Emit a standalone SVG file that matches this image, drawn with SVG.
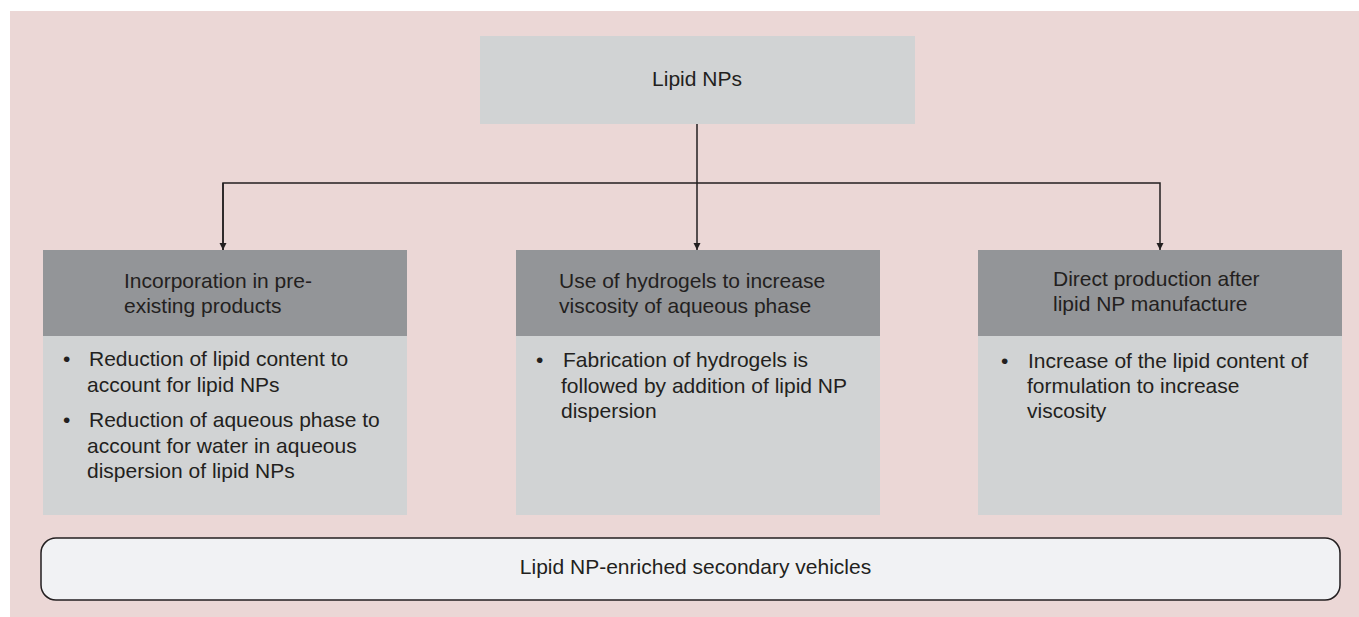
<svg xmlns="http://www.w3.org/2000/svg" width="1359" height="617" viewBox="0 0 1359 617">
<defs>
<style>
text{font-family:"Liberation Sans",Arial,sans-serif;font-size:21px;fill:#231f20}
.hdr{fill:#939598}
.body{fill:#d1d3d4}
.conn{stroke:#231f20;stroke-width:1.5;fill:none}
</style>
<marker id="arr" viewBox="0 0 10 10" refX="10" refY="5" markerWidth="7" markerHeight="10" markerUnits="userSpaceOnUse" orient="auto">
<path d="M0,0 L10,5 L0,10 z" fill="#231f20"/>
</marker>
</defs>
<rect x="0" y="0" width="1359" height="617" fill="#ffffff"/>
<rect x="10" y="11" width="1349" height="606" fill="#ebd7d6"/>
<g id="top">
<rect x="480" y="36" width="435" height="88" class="body"/>
<text x="697" y="86" text-anchor="middle">Lipid NPs</text>
</g>
<g id="connectors">
<line x1="697" y1="124" x2="697" y2="250" class="conn" marker-end="url(#arr)"/>
<polyline points="223,250 223,183 1160,183 1160,250" class="conn" marker-end="url(#arr)"/>
<line x1="223" y1="183" x2="223" y2="250" class="conn" marker-end="url(#arr)"/>
</g>
<g id="left">
<rect x="43" y="250" width="364" height="86" class="hdr"/>
<rect x="43" y="336" width="364" height="179" class="body"/>
<text x="124" y="288">Incorporation in pre-</text>
<text x="124" y="313">existing products</text>
<text x="63" y="366">•</text>
<text x="89" y="366">Reduction of lipid content to</text>
<text x="87" y="392">account for lipid NPs</text>
<text x="63" y="427">•</text>
<text x="89" y="427">Reduction of aqueous phase to</text>
<text x="87" y="453">account for water in aqueous</text>
<text x="87" y="478">dispersion of lipid NPs</text>
</g>
<g id="middle">
<rect x="516" y="250" width="364" height="86" class="hdr"/>
<rect x="516" y="336" width="364" height="179" class="body"/>
<text x="559" y="288">Use of hydrogels to increase</text>
<text x="559" y="313">viscosity of aqueous phase</text>
<text x="536" y="367">•</text>
<text x="563" y="367">Fabrication of hydrogels is</text>
<text x="561" y="393">followed by addition of lipid NP</text>
<text x="561" y="418">dispersion</text>
</g>
<g id="right">
<rect x="978" y="250" width="364" height="86" class="hdr"/>
<rect x="978" y="336" width="364" height="179" class="body"/>
<text x="1053" y="286">Direct production after</text>
<text x="1053" y="311">lipid NP manufacture</text>
<text x="1001" y="368">•</text>
<text x="1028" y="368">Increase of the lipid content of</text>
<text x="1027" y="393">formulation to increase</text>
<text x="1027" y="418">viscosity</text>
</g>
<g id="bottom">
<rect x="41" y="538" width="1299" height="62" rx="15" ry="15" fill="#f1f2f4" stroke="#231f20" stroke-width="1.5"/>
<text x="695.5" y="574" text-anchor="middle">Lipid NP-enriched secondary vehicles</text>
</g>
</svg>
